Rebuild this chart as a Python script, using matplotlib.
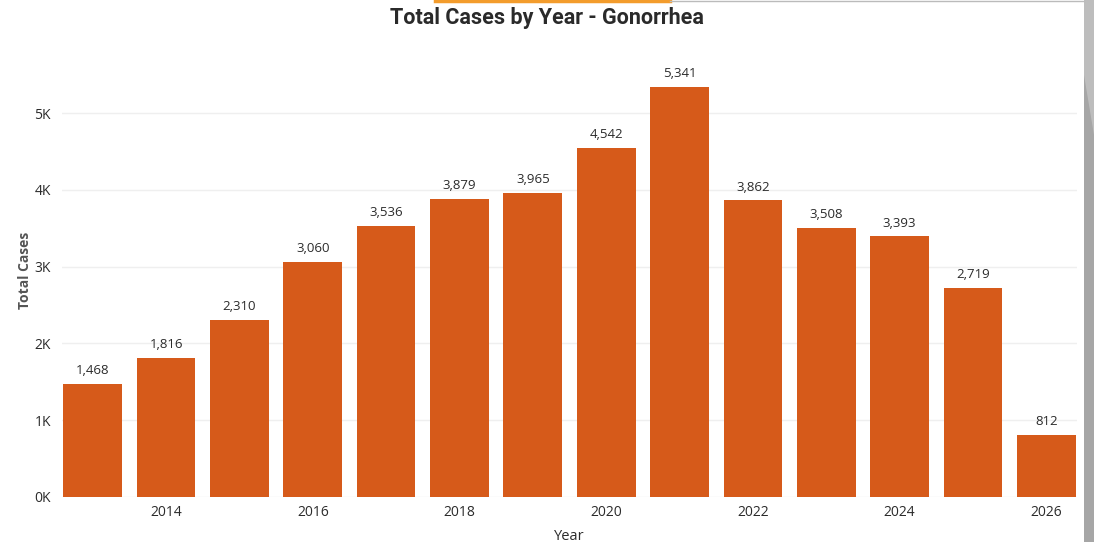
import matplotlib.pyplot as plt
from matplotlib.lines import Line2D
from matplotlib.patches import Polygon
from matplotlib.ticker import FuncFormatter

# data
years = [2013, 2014, 2015, 2016, 2017, 2018, 2019, 2020, 2021, 2022, 2023, 2024, 2025, 2026]
cases = [1468, 1816, 2310, 3060, 3536, 3879, 3965, 4542, 5341, 3862, 3508, 3393, 2719, 812]
tick_years = [2014, 2016, 2018, 2020, 2022, 2024, 2026]

bar_color = "#D65A1A"
text_color = "#2b2b2b"

plt.rcParams['font.family'] = ['Open Sans', 'DejaVu Sans']

fig = plt.figure(figsize=(10.94, 5.42), dpi=100)
ax = fig.add_axes([62 / 1094, 45 / 542, 1015 / 1094, 453 / 542])

x = list(range(len(years)))
bars = ax.bar(x, cases, width=0.8, color=bar_color, zorder=3)

for xi, v in zip(x, cases):
    ax.annotate(f"{v:,}", (xi, v), xytext=(0, 5), textcoords="offset points",
                ha="center", va="bottom", fontsize=9.5, color=text_color)

ax.set_xlim(-0.42, len(years) - 1 + 0.42)
ax.set_ylim(0, 5900)
ax.set_yticks([0, 1000, 2000, 3000, 4000, 5000])
ax.yaxis.set_major_formatter(FuncFormatter(lambda v, p: f"{int(v / 1000)}K"))
ax.set_xticks([years.index(y) for y in tick_years])
ax.set_xticklabels([str(y) for y in tick_years])

ax.grid(axis="y", color="#EFEFEF", linewidth=1, zorder=0)
for s in ax.spines.values():
    s.set_visible(False)
ax.tick_params(length=0, labelsize=10, colors=text_color)
ax.tick_params(axis="y", pad=8)
ax.tick_params(axis="x", pad=6)

ax.set_xlabel("Year", fontsize=10.5, color=text_color, labelpad=6)
ax.set_ylabel("Total Cases", fontsize=10, color="#555555", fontweight="bold", labelpad=2)

fig.text(0.5, 0.967, "Total Cases by Year - Gonorrhea", ha="center", va="center",
         fontsize=15.5, fontweight="bold", color="#2a2a2a",
         family=["Roboto", "DejaVu Sans"])

# decorative bits around the visual
fig.add_artist(Line2D([435 / 1094, 670 / 1094], [0.998, 0.998], color="#F39C2C", linewidth=2.5))
fig.add_artist(Line2D([670 / 1094, 1084 / 1094], [0.998, 0.998], color="#BBBBBB", linewidth=1))
fig.add_artist(Polygon([[1084 / 1094, 0], [1, 0], [1, 1], [1084 / 1094, 1]],
                       closed=True, facecolor="#A6A6A6", edgecolor="none", transform=fig.transFigure))
fig.add_artist(Polygon([[1084 / 1094, 1], [1, 1], [1, 1 - 135 / 542], [1084 / 1094, 1 - 75 / 542]],
                       closed=True, facecolor="#BDBDBD", edgecolor="none", transform=fig.transFigure))

fig.savefig("out.png", dpi=100)
